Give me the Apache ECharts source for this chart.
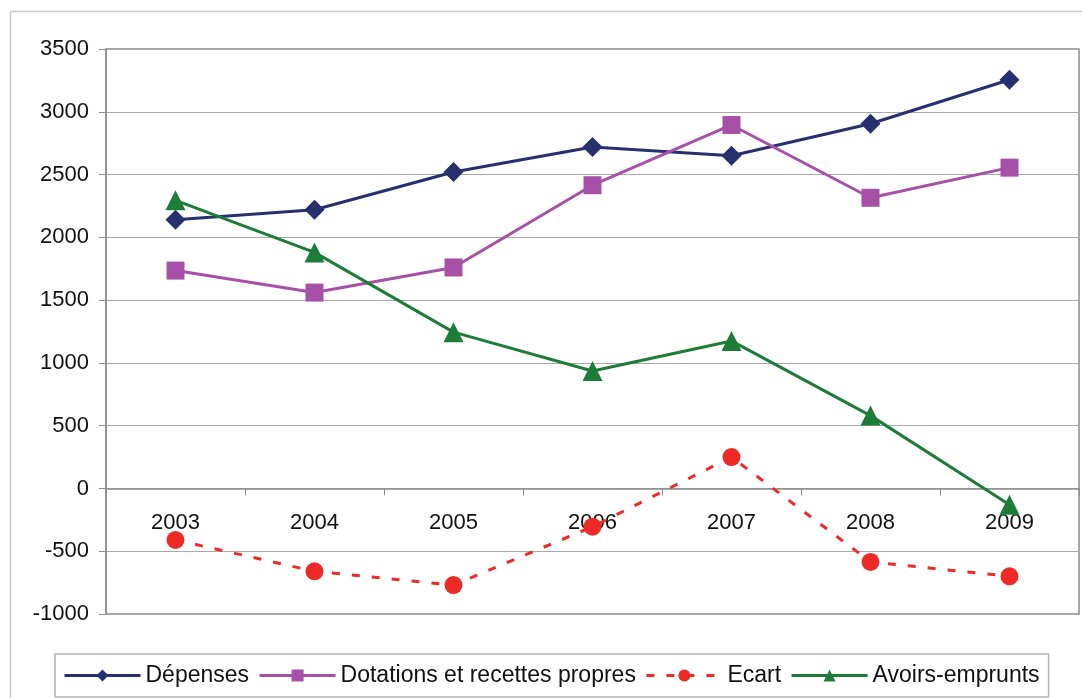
<!DOCTYPE html>
<html lang="fr">
<head>
<meta charset="utf-8">
<title>Dépenses et recettes</title>
<style>
  html, body { margin: 0; padding: 0; background: #fff; }
  #main { width: 1082px; height: 698px; }
</style>
</head>
<body>
<div id="main"></div>
<script src="https://cdn.jsdelivr.net/npm/echarts@6/dist/echarts.min.js"></script>
<script>
var years = ['2003', '2004', '2005', '2006', '2007', '2008', '2009'];
var depenses = [2140, 2220, 2520, 2720, 2650, 2905, 3255];
var dotations = [1735, 1560, 1760, 2415, 2895, 2315, 2555];
var ecart = [-410, -660, -770, -305, 250, -585, -700];
var avoirs = [2295, 1880, 1245, 935, 1175, 580, -130];
var yTicks = { min: -1000, max: 3500, step: 500 };

var myChart = echarts.init(document.getElementById('main'));
var font = 'Liberation Sans, Arial, sans-serif';

// plot box in pixels
var gridTop = 49, gridBottom = 84;
var plotH = 698 - gridTop - gridBottom;
// move the category axis up to the zero line
var zeroOffset = -plotH * (0 - yTicks.min) / (yTicks.max - yTicks.min);

function lineSeries(name, data, color, symbol, size, dashed) {
    return {
        name: name,
        type: 'line',
        data: data,
        symbol: symbol,
        symbolSize: size,
        showSymbol: true,
        lineStyle: { color: color, width: 3, type: dashed ? [8, 12] : 'solid' },
        itemStyle: { color: color },
        emphasis: { disabled: true }
    };
}

var option = {
    backgroundColor: '#fff',
    animation: false,
    graphic: [{
        type: 'rect',
        shape: { x: 10.5, y: 11.5, width: 1090, height: 700 },
        style: { fill: 'none', stroke: '#c8c8c8', lineWidth: 1.5 },
        silent: true
    }],
    grid: {
        left: 106, top: gridTop, right: 3, bottom: gridBottom,
        show: true, borderColor: '#8c8c8c', borderWidth: 1.5
    },
    legend: {
        left: 55, top: 654,
        padding: [10, 9, 10, 8],
        borderColor: '#b4b4b4', borderWidth: 1.5,
        itemWidth: 76, itemHeight: 15, itemGap: 9,
        lineStyle: { width: 3 },
        textStyle: { fontFamily: font, fontSize: 23, color: '#111' }
    },
    xAxis: {
        type: 'category',
        data: years,
        boundaryGap: true,
        offset: zeroOffset,
        z: 3,
        axisLine: { onZero: false, lineStyle: { color: '#8c8c8c', width: 1.5 } },
        axisTick: { show: true, length: 7, lineStyle: { color: '#8c8c8c' } },
        axisLabel: { margin: 23, fontFamily: font, fontSize: 22, color: '#111' },
        splitLine: { show: false }
    },
    yAxis: {
        type: 'value',
        min: yTicks.min, max: yTicks.max, interval: yTicks.step,
        axisLine: { show: true, lineStyle: { color: '#8c8c8c', width: 1.5 } },
        axisTick: { show: true, length: 7, lineStyle: { color: '#8c8c8c' } },
        axisLabel: { margin: 17, fontFamily: font, fontSize: 22, color: '#111',
            formatter: function (v) { return String(v); } },
        splitLine: { show: true, lineStyle: { color: '#a8a8a8', width: 1.2 } }
    },
    series: [
        lineSeries('Dépenses', depenses, '#27306e', 'diamond', 20, false),
        lineSeries('Dotations et recettes propres', dotations, '#a650a8', 'rect', 18, false),
        lineSeries('Ecart', ecart, '#ee2a26', 'circle', 18, true),
        lineSeries('Avoirs-emprunts', avoirs, '#1d7c38', 'triangle', 20, false)
    ]
};

myChart.setOption(option);
</script>
</body>
</html>
